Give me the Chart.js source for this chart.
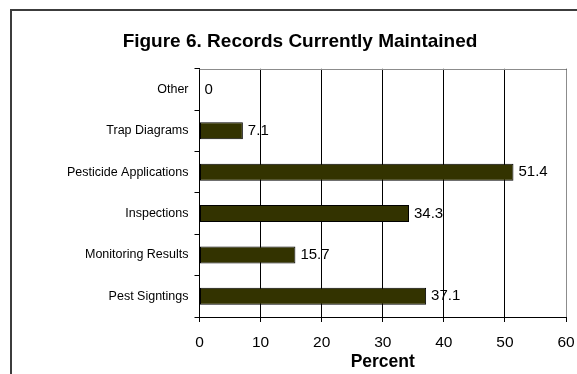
<!DOCTYPE html>
<html>
<head>
<meta charset="utf-8">
<script src="https://cdn.jsdelivr.net/npm/chart.js@4.4.1/dist/chart.umd.min.js"></script>
<style>
  html, body { margin: 0; padding: 0; background: #fff; overflow: hidden; }
  #frame { position: absolute; left: 10px; top: 9px; width: 700px; height: 500px; border: 2px solid #3c3c3c; }
  #wrap { position: absolute; left: 0; top: 0; width: 577px; height: 374px; }
</style>
</head>
<body>
<div id="frame"></div>
<div id="wrap"><canvas id="chart" width="577" height="374"></canvas></div>
<script>
const categories = ['Other', 'Trap Diagrams', 'Pesticide Applications', 'Inspections', 'Monitoring Results', 'Pest Signtings'];
const percents = [0, 7.1, 51.4, 34.3, 15.7, 37.1];
const xTicks = [0, 10, 20, 30, 40, 50, 60];

const FONT = "'Liberation Sans', Arial, sans-serif";

// value text next to each bar
const valueLabels = {
    id: 'valueLabels',
    afterDatasetsDraw(chart) {
        const ctx = chart.ctx;
        const meta = chart.getDatasetMeta(0);
        ctx.save();
        ctx.font = '15px ' + FONT;
        ctx.fillStyle = '#000';
        ctx.textBaseline = 'middle';
        ctx.textAlign = 'left';
        meta.data.forEach((bar, i) => {
            ctx.fillText(String(percents[i]), bar.x + 5, bar.y);
        });
        ctx.restore();
    }
};

// grey top/right edge of the plot box
const plotBox = {
    id: 'plotBox',
    afterDraw(chart) {
        const a = chart.chartArea;
        const ctx = chart.ctx;
        ctx.save();
        ctx.strokeStyle = '#8c8c8c';
        ctx.lineWidth = 1;
        ctx.beginPath();
        ctx.moveTo(a.left, Math.round(a.top) + 0.5);
        ctx.lineTo(Math.round(a.right) + 0.5, Math.round(a.top) + 0.5);
        ctx.lineTo(Math.round(a.right) + 0.5, a.bottom);
        ctx.stroke();
        ctx.restore();
    }
};

const ctx = document.getElementById('chart').getContext('2d');
new Chart(ctx, {
    type: 'bar',
    data: {
        labels: categories,
        datasets: [{
            data: percents,
            backgroundColor: '#333300',
            borderColor: '#000',
            borderWidth: 1,
            borderSkipped: false,
            barPercentage: 0.41,
            categoryPercentage: 1
        }]
    },
    options: {
        indexAxis: 'y',
        responsive: false,
        animation: false,
        layout: { padding: { left: 34, right: 11, top: 0, bottom: 0 } },
        plugins: {
            legend: { display: false },
            tooltip: { enabled: false },
            title: {
                display: true,
                text: 'Figure 6. Records Currently Maintained',
                color: '#000',
                font: { family: FONT, size: 19, weight: 'bold' },
                padding: { top: 30, bottom: 16 }
            }
        },
        scales: {
            x: {
                min: 0,
                max: 60,
                afterBuildTicks(scale) {
                    scale.ticks = xTicks.map(v => ({ value: v }));
                },
                afterFit(scale) {
                    scale.height = 57;
                    scale.paddingLeft = 0;
                    scale.paddingRight = 0;
                },
                grid: {
                    color: '#000',
                    lineWidth: 1,
                    tickLength: 5,
                    drawOnChartArea: true
                },
                border: { color: '#000', width: 1 },
                ticks: {
                    color: '#000',
                    font: { family: FONT, size: 15.5 },
                    padding: 11,
                    maxRotation: 0
                },
                title: {
                    display: true,
                    text: 'Percent',
                    color: '#000',
                    font: { family: FONT, size: 17.5, weight: 'bold' },
                    padding: { top: 0, bottom: 1 }
                }
            },
            y: {
                afterFit(scale) {
                    scale.width = 165.5;
                },
                grid: {
                    offset: true,
                    drawOnChartArea: false,
                    color: '#000',
                    tickLength: 5
                },
                border: { color: '#000', width: 1 },
                ticks: {
                    color: '#000',
                    font: { family: FONT, size: 12.5 },
                    padding: 6
                }
            }
        }
    },
    plugins: [valueLabels, plotBox]
});
</script>
</body>
</html>
